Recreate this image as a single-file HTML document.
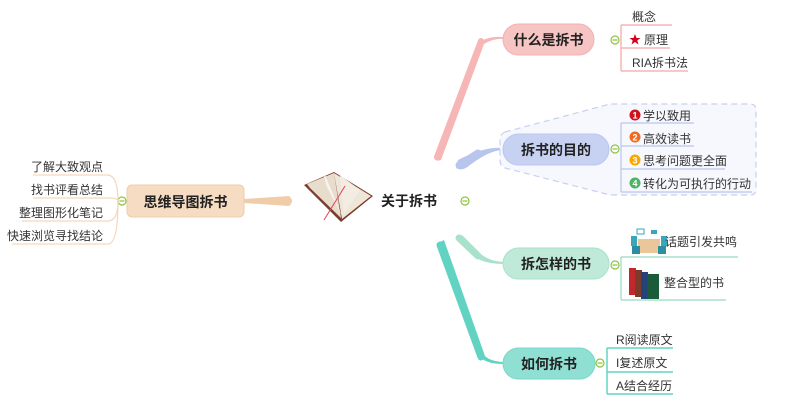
<!DOCTYPE html>
<html><head><meta charset="utf-8"><style>
html,body{margin:0;padding:0;background:#fff;width:800px;height:410px;overflow:hidden}
svg{display:block}
text{font-family:"Liberation Sans","Noto Sans CJK SC",sans-serif}
.c{font-size:12px;fill:#333}
.n{font-size:14px;font-weight:bold;fill:#222}
</style></head><body>
<svg width="800" height="410" viewBox="0 0 800 410" xmlns="http://www.w3.org/2000/svg">
<!-- tapered branches -->
<path d="M434,158 Q436,162 441,160 L484,44 Q494,38 503,39 L503,37 Q490,36 481,41 Z" fill="#f6b6b6"/>
<path d="M437,157 L481,41" stroke="#f6b6b6" stroke-width="6" stroke-linecap="round"/>
<path d="M456,168 Q462,172 470,165 Q490,150 503,150 L503,148 Q485,146 458,160 Z" fill="#b8c6ee"/>
<path d="M459,165 L478,153" stroke="#b8c6ee" stroke-width="7" stroke-linecap="round"/>
<path d="M457,239 L480,260 Q490,264 503,264 L503,262 Q490,261 482,255 L462,235 Z" fill="#a9e2cc"/>
<path d="M459,238 L478,256" stroke="#a9e2cc" stroke-width="7" stroke-linecap="round"/>
<path d="M438,243 L481,358 Q488,364 503,364 L503,362 Q490,361 485,356 L444,240 Z" fill="#62d3c3"/>
<path d="M440,245 L481,357" stroke="#62d3c3" stroke-width="7" stroke-linecap="round"/>
<path d="M244,199 L289,196 Q295,201 289,206 L244,203 Z" fill="#f0cca8"/>

<!-- dashed boundary -->
<path d="M505,132 L610,104 L750,104 Q756,104 756,110 L756,189 Q756,195 750,195 L610,195 L505,168 Q500,166 500,160 L500,140 Q500,134 505,132 Z" fill="#f7f8fe" stroke="#c6d1f0" stroke-width="1.2" stroke-dasharray="6,4"/>

<!-- nodes -->
<rect x="503" y="24" width="91" height="31" rx="15.5" fill="#f7c4c4" stroke="#f3b0b0"/>
<text class="n" x="548.5" y="45" text-anchor="middle">什么是拆书</text>
<rect x="503" y="134" width="106" height="31" rx="15.5" fill="#c7d2f2" stroke="#b8c6ee"/>
<text class="n" x="556" y="155" text-anchor="middle">拆书的目的</text>
<rect x="503" y="248" width="106" height="31" rx="15.5" fill="#bfe9d9" stroke="#a9e2cc"/>
<text class="n" x="556" y="269" text-anchor="middle">拆怎样的书</text>
<rect x="503" y="348" width="92" height="31" rx="15.5" fill="#8fe0d3" stroke="#78d8c8"/>
<text class="n" x="549" y="369" text-anchor="middle">如何拆书</text>
<rect x="127" y="185" width="117" height="32" rx="5" fill="#f6dcc2" stroke="#f0cca8"/>
<text class="n" x="185.5" y="207" text-anchor="middle">思维导图拆书</text>

<!-- central -->
<g>
<path d="M304,185 L334,172 L373,196 L341,222 Z" fill="#7a3d2e"/>
<path d="M307,184 L334,173 L341,218 L310,188 Z" fill="#e8dccd"/>
<path d="M334,173 L371,196 L342,219 Z" fill="#efe6da"/>
<path d="M323,170 L342,216 L326,185 Z" fill="#f7f3ee"/>
<path d="M340,175 L360,190 L344,214 Z" fill="#f3ece3"/>
<line x1="345" y1="186" x2="324" y2="220" stroke="#e0405a" stroke-width="1"/>
</g>
<text x="381" y="206" font-size="14" fill="#222" font-weight="bold" font-family="Liberation Sans,Noto Sans CJK SC,sans-serif">关于拆书</text>

<!-- minus circles -->
<g fill="#fff" stroke="#8cc43c" stroke-width="1.2">
<circle cx="465" cy="201" r="4"/><circle cx="615" cy="40" r="4"/><circle cx="615" cy="149" r="4"/>
<circle cx="615" cy="265" r="4"/><circle cx="600" cy="363" r="4"/><circle cx="122" cy="201" r="4"/>
</g>
<g stroke="#8cc43c" stroke-width="1.2">
<line x1="462.5" y1="201" x2="467.5" y2="201"/><line x1="612.5" y1="40" x2="617.5" y2="40"/>
<line x1="612.5" y1="149" x2="617.5" y2="149"/><line x1="612.5" y1="265" x2="617.5" y2="265"/>
<line x1="597.5" y1="363" x2="602.5" y2="363"/><line x1="119.5" y1="201" x2="124.5" y2="201"/>
</g>

<!-- pink children -->
<g stroke="#f6b6b6" stroke-width="1.5" fill="none">
<path d="M621,25 L621,71"/><path d="M621,25 L672,25"/><path d="M621,48 L670,48"/><path d="M621,71 L688,71"/>
</g>
<text class="c" x="632" y="21">概念</text>
<polygon points="635,34 636.5,38 640.5,38 637.3,40.5 638.5,44.5 635,42 631.5,44.5 632.7,40.5 629.5,38 633.5,38" fill="#d0021b"/>
<text class="c" x="644" y="44">原理</text>
<text class="c" x="632" y="67" font-family="Liberation Mono,Noto Sans CJK SC,monospace">RIA拆书法</text>

<!-- blue children -->
<g stroke="#b8c6ee" stroke-width="1.2" fill="none">
<path d="M621,123 L621,192"/><path d="M621,123 L694,123"/><path d="M621,146 L694,146"/><path d="M621,169 L725,169"/><path d="M621,192 L752,192"/>
</g>
<g font-size="9" font-weight="bold" fill="#fff" text-anchor="middle" font-family="Liberation Sans,sans-serif">
<circle cx="635" cy="115" r="5.5" fill="#d0121b"/><text x="635" y="118.5">1</text>
<circle cx="635" cy="137" r="5.5" fill="#f26a1b"/><text x="635" y="140.5">2</text>
<circle cx="635" cy="160" r="5.5" fill="#f9a800"/><text x="635" y="163.5">3</text>
<circle cx="635" cy="183" r="5.5" fill="#4cb562"/><text x="635" y="186.5">4</text>
</g>
<text class="c" x="643" y="120">学以致用</text>
<text class="c" x="643" y="143">高效读书</text>
<text class="c" x="643" y="165">思考问题更全面</text>
<text class="c" x="643" y="188">转化为可执行的行动</text>

<!-- mint children -->
<g stroke="#a9e2cc" stroke-width="1.5" fill="none">
<path d="M621,257 L621,300"/><path d="M621,257 L738,257"/><path d="M621,300 L726,300"/>
</g>
<g>
<rect x="638" y="239" width="22" height="14" fill="#e9c79a"/>
<rect x="631" y="236" width="6" height="10" fill="#3aa6b9"/><rect x="661" y="236" width="6" height="10" fill="#3aa6b9"/>
<rect x="632" y="246" width="8" height="8" fill="#2b8fa0"/><rect x="658" y="246" width="8" height="8" fill="#2b8fa0"/>
<rect x="637" y="229" width="7" height="5" fill="none" stroke="#3aa6b9"/><rect x="651" y="230" width="6" height="4" fill="#3aa6b9"/>
</g>
<text class="c" x="665" y="246">话题引发共鸣</text>
<g>
<rect x="629" y="268" width="7" height="27" fill="#c1272d"/>
<rect x="635" y="270" width="7" height="27" fill="#7a3b2a"/>
<rect x="641" y="272" width="7" height="27" fill="#27427a"/>
<rect x="647" y="274" width="12" height="25" fill="#1a5c3a"/>
</g>
<text class="c" x="664" y="287">整合型的书</text>

<!-- teal children -->
<g stroke="#62d3c3" stroke-width="1.5" fill="none">
<path d="M607,348 L607,394"/><path d="M607,348 L673,348"/><path d="M607,372 L673,372"/><path d="M607,394 L673,394"/>
</g>
<text class="c" x="616" y="344">R阅读原文</text>
<text class="c" x="616" y="367">I复述原文</text>
<text class="c" x="616" y="390">A结合经历</text>

<!-- left children -->
<g stroke="#f6d6bb" stroke-width="1.2" fill="none">
<path d="M118,201 Q118,176 108,175 L33,175"/>
<path d="M118,201 Q118,198 108,198 L33,198"/>
<path d="M118,201 Q118,221 108,221 L22,221"/>
<path d="M118,201 Q118,244 108,244 L12,244"/>
</g>
<g class="c" text-anchor="end">
<text x="103" y="171">了解大致观点</text>
<text x="103" y="194">找书评看总结</text>
<text x="103" y="217">整理图形化笔记</text>
<text x="103" y="240">快速浏览寻找结论</text>
</g>
</svg>
</body></html>
